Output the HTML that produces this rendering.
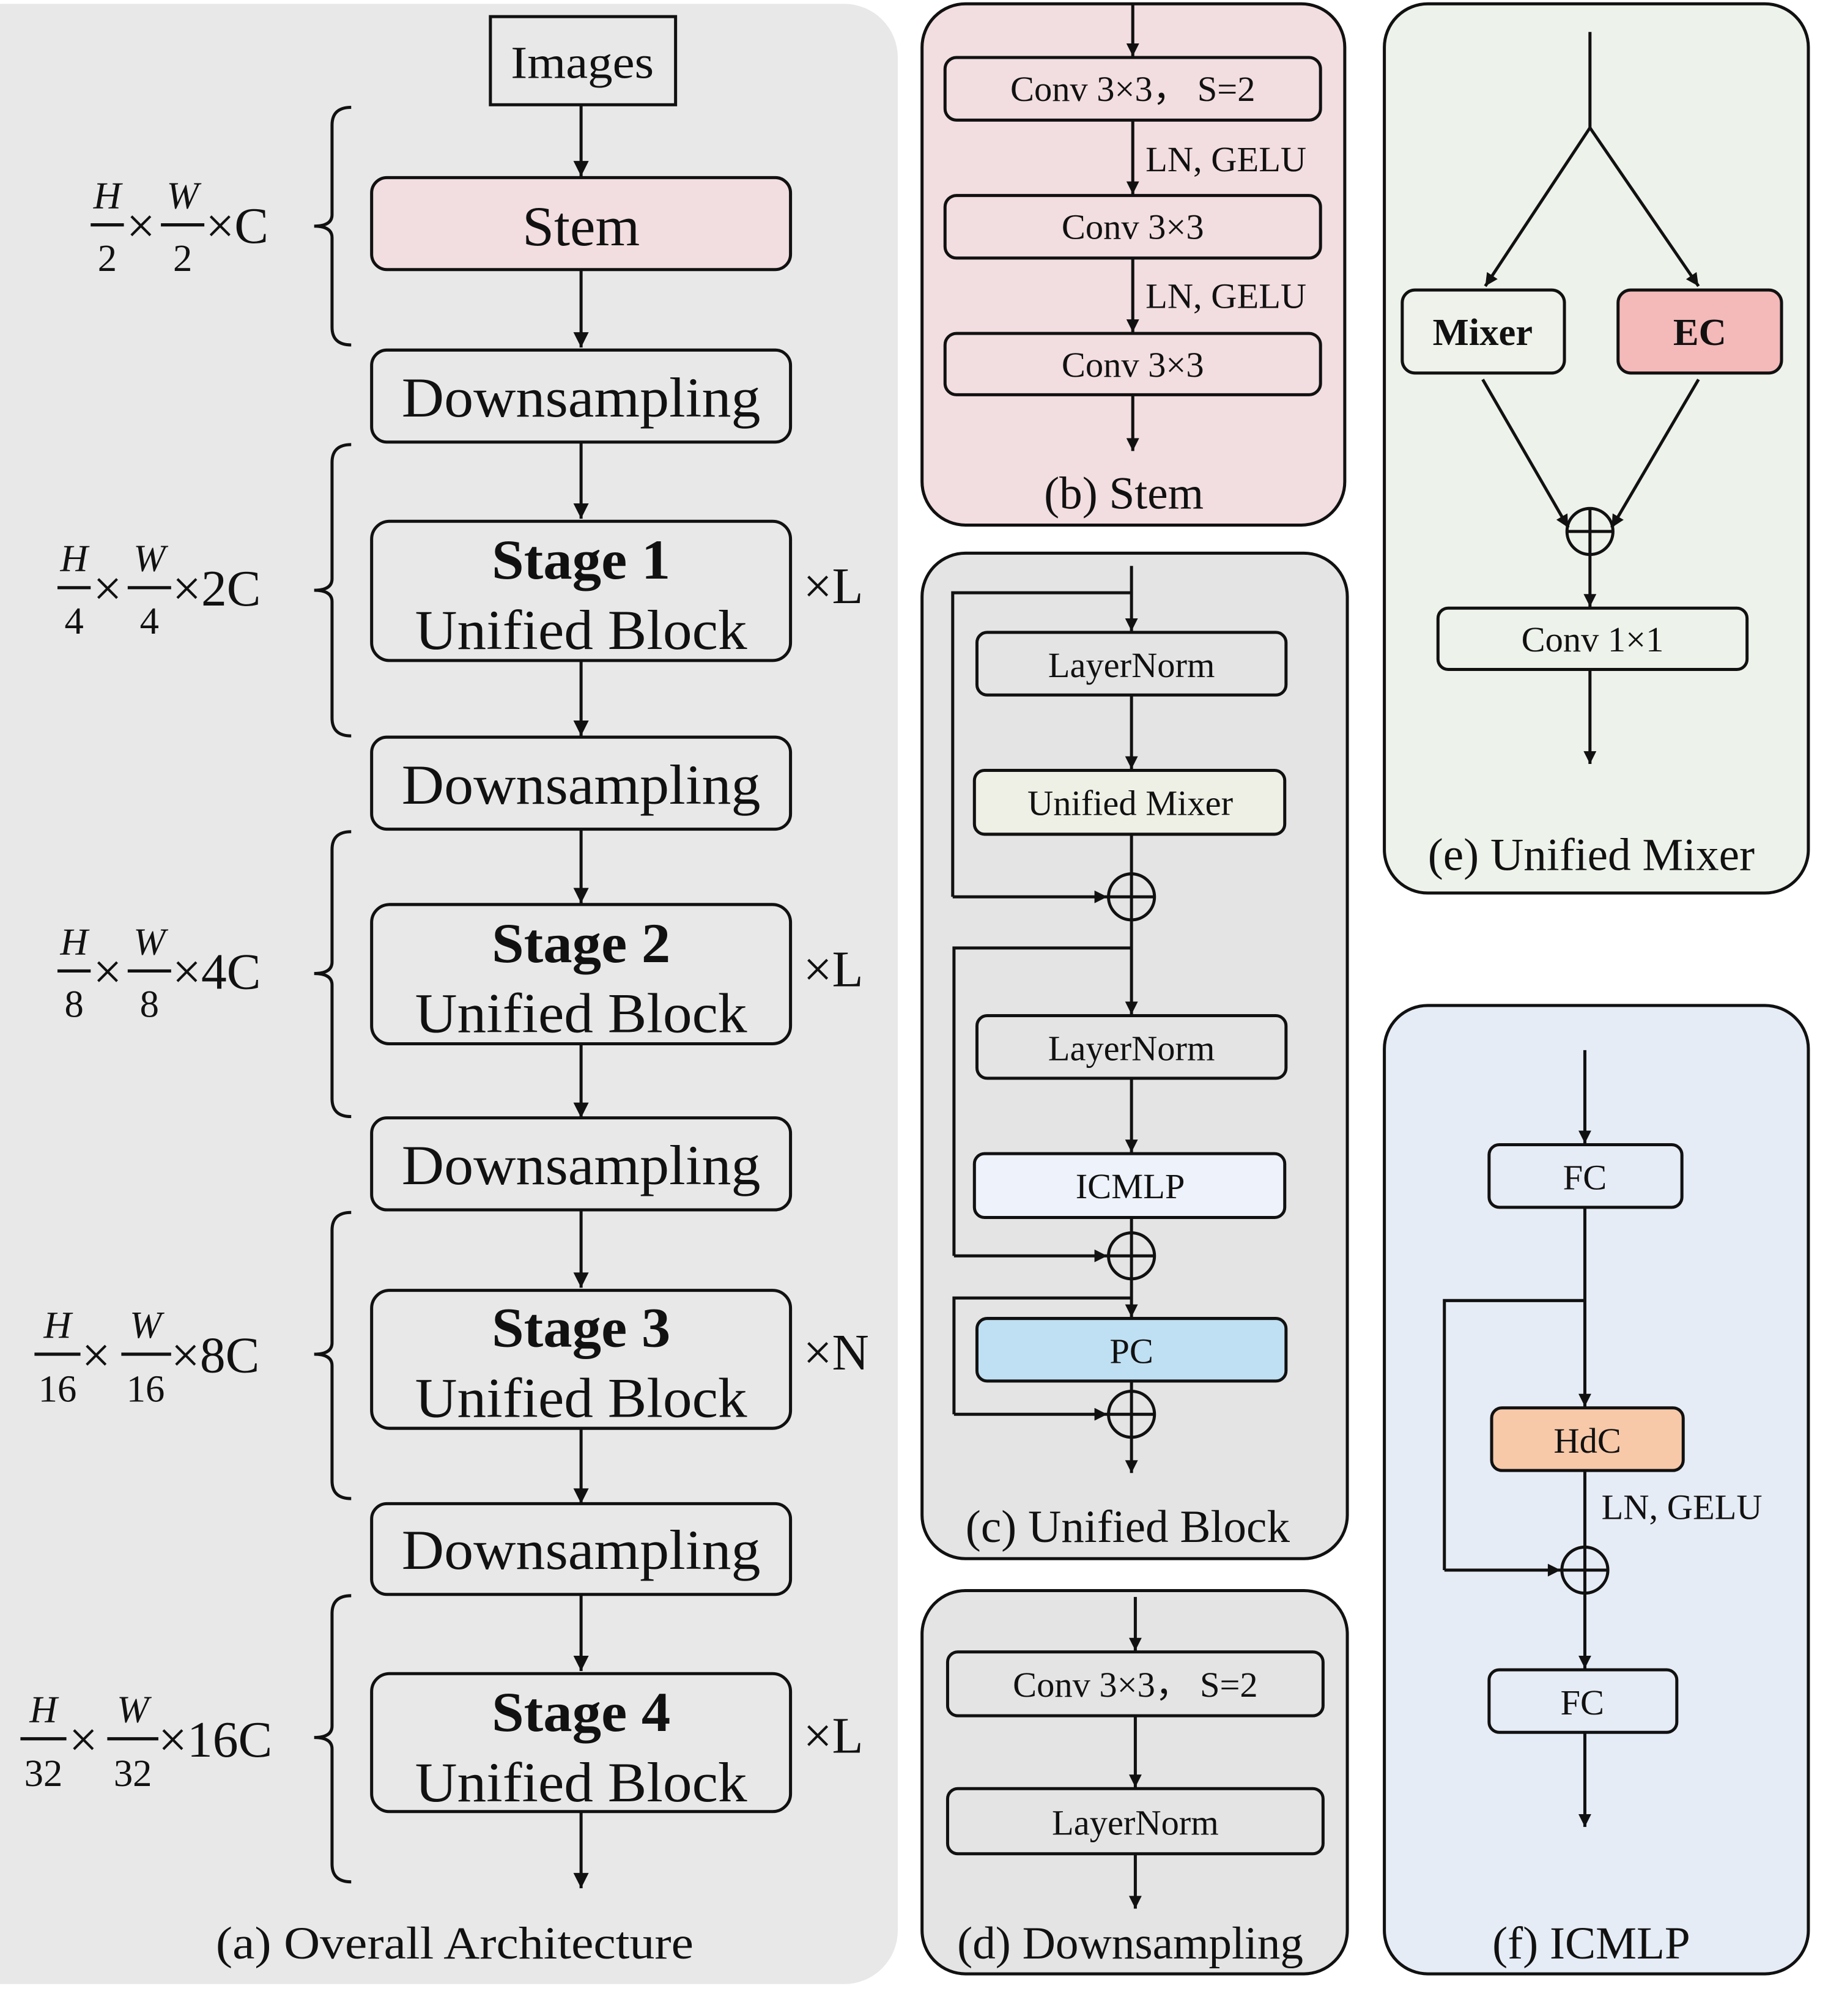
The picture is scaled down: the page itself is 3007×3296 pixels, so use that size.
<!DOCTYPE html>
<html><head><meta charset="utf-8"><style>
html,body{margin:0;padding:0;background:#fff;}
svg{display:block;}
text{font-family:"Liberation Serif","DejaVu Serif",serif;fill:#111;}
</style></head><body>
<svg width="3007" height="3296" viewBox="0 0 1440 1578" preserveAspectRatio="none" xmlns="http://www.w3.org/2000/svg">
<defs>
<marker id="ah" viewBox="0 0 10 10" refX="10" refY="5" markerWidth="12" markerHeight="10" orient="auto" markerUnits="userSpaceOnUse">
<path d="M0,0 L10,5 L0,10 z" fill="#111"/></marker>
<marker id="a2" viewBox="0 0 10 10" refX="10" refY="5" markerWidth="14" markerHeight="12" orient="auto" markerUnits="userSpaceOnUse">
<path d="M0,0 L10,5 L0,10 z" fill="#111"/></marker>
</defs>
<g stroke="#111" stroke-width="2.4" fill="none">
<!-- panels -->
<rect x="-40" y="3" width="743" height="1550" rx="42" fill="#e8e8e8" stroke="none"/>
<rect x="722" y="3" width="331" height="408" rx="34" fill="#f2dde0"/>
<rect x="722" y="433" width="333" height="787" rx="34" fill="#e4e4e4"/>
<rect x="722" y="1245" width="333" height="300" rx="34" fill="#e4e4e4"/>
<rect x="1084" y="3" width="332" height="696" rx="34" fill="#edf2ea"/>
<rect x="1084" y="787" width="332" height="758" rx="34" fill="#e6ecf5"/>

<!-- panel a boxes -->
<rect x="384" y="13" width="145" height="69" fill="none"/>
<rect x="291" y="139" width="328" height="72" rx="12" fill="#f2dde0"/>
<rect x="291" y="274" width="328" height="72" rx="12"/>
<rect x="291" y="408" width="328" height="109" rx="14"/>
<rect x="291" y="577" width="328" height="72" rx="12"/>
<rect x="291" y="708" width="328" height="109" rx="14"/>
<rect x="291" y="875" width="328" height="72" rx="12"/>
<rect x="291" y="1010" width="328" height="108" rx="14"/>
<rect x="291" y="1177" width="328" height="71" rx="12"/>
<rect x="291" y="1310" width="328" height="108" rx="14"/>
<g marker-end="url(#a2)">
<line x1="455" y1="82" x2="455" y2="138"/>
<line x1="455" y1="211" x2="455" y2="272"/>
<line x1="455" y1="346" x2="455" y2="406"/>
<line x1="455" y1="517" x2="455" y2="576"/>
<line x1="455" y1="649" x2="455" y2="707"/>
<line x1="455" y1="817" x2="455" y2="875"/>
<line x1="455" y1="947" x2="455" y2="1008"/>
<line x1="455" y1="1118" x2="455" y2="1177"/>
<line x1="455" y1="1248" x2="455" y2="1308"/>
<line x1="455" y1="1418" x2="455" y2="1478"/>
</g>
<!-- braces -->
<path d="M275,84 Q260,84 260,98 L260,168 Q260,177 246,177 Q260,177 260,186 L260,256 Q260,270 275,270"/>
<path d="M275,348 Q260,348 260,362 L260,453 Q260,462 246,462 Q260,462 260,471 L260,562 Q260,576 275,576"/>
<path d="M275,651 Q260,651 260,665 L260,753 Q260,762 246,762 Q260,762 260,771 L260,860 Q260,874 275,874"/>
<path d="M275,949 Q260,949 260,963 L260,1051 Q260,1060 246,1060 Q260,1060 260,1069 L260,1159 Q260,1173 275,1173"/>
<path d="M275,1249 Q260,1249 260,1263 L260,1351 Q260,1360 246,1360 Q260,1360 260,1369 L260,1459 Q260,1473 275,1473"/>
<!-- fraction bars -->
<line x1="71" y1="176" x2="97" y2="176" stroke-width="2.5"/><line x1="126" y1="176" x2="160" y2="176" stroke-width="2.5"/>
<line x1="45" y1="460" x2="71" y2="460" stroke-width="2.5"/><line x1="100" y1="460" x2="134" y2="460" stroke-width="2.5"/>
<line x1="45" y1="760" x2="71" y2="760" stroke-width="2.5"/><line x1="100" y1="760" x2="134" y2="760" stroke-width="2.5"/>
<line x1="27" y1="1060" x2="63" y2="1060" stroke-width="2.5"/><line x1="95" y1="1060" x2="134" y2="1060" stroke-width="2.5"/>
<line x1="16" y1="1361" x2="52" y2="1361" stroke-width="2.5"/><line x1="84" y1="1361" x2="124" y2="1361" stroke-width="2.5"/>

<!-- panel b -->
<rect x="740" y="45" width="294" height="49" rx="9"/>
<rect x="740" y="153" width="294" height="49" rx="9"/>
<rect x="740" y="261" width="294" height="48" rx="9"/>
<g marker-end="url(#ah)">
<line x1="887" y1="3" x2="887" y2="44"/>
<line x1="887" y1="94" x2="887" y2="152"/>
<line x1="887" y1="202" x2="887" y2="260"/>
<line x1="887" y1="309" x2="887" y2="353"/>
</g>

<!-- panel c -->
<rect x="765" y="495" width="242" height="49" rx="8"/>
<rect x="763" y="603" width="243" height="50" rx="8" fill="#eef0e6"/>
<rect x="765" y="795" width="242" height="49" rx="8"/>
<rect x="763" y="903" width="243" height="50" rx="8" fill="#eef2fa"/>
<rect x="765" y="1032" width="242" height="49" rx="8" fill="#bfe0f3"/>
<circle cx="886" cy="702" r="18"/><line x1="868" y1="702" x2="904" y2="702"/><line x1="886" y1="684" x2="886" y2="720"/>
<circle cx="886" cy="983" r="18"/><line x1="868" y1="983" x2="904" y2="983"/><line x1="886" y1="965" x2="886" y2="1001"/>
<circle cx="886" cy="1107" r="18"/><line x1="868" y1="1107" x2="904" y2="1107"/><line x1="886" y1="1089" x2="886" y2="1125"/>
<line x1="886" y1="653" x2="886" y2="684"/>
<line x1="886" y1="953" x2="886" y2="965"/>
<line x1="886" y1="1081" x2="886" y2="1089"/>
<polyline points="886,464 746,464 746,702"/>
<polyline points="886,742 747,742 747,983"/>
<polyline points="886,1016 747,1016 747,1107"/>
<g marker-end="url(#ah)">
<line x1="886" y1="443" x2="886" y2="494"/>
<line x1="886" y1="544" x2="886" y2="602"/>
<line x1="746" y1="702" x2="867" y2="702"/>
<line x1="886" y1="720" x2="886" y2="794"/>
<line x1="886" y1="844" x2="886" y2="902"/>
<line x1="747" y1="983" x2="867" y2="983"/>
<line x1="886" y1="1001" x2="886" y2="1031"/>
<line x1="747" y1="1107" x2="867" y2="1107"/>
<line x1="886" y1="1125" x2="886" y2="1153"/>
</g>

<!-- panel d -->
<rect x="742" y="1293" width="294" height="50" rx="8"/>
<rect x="742" y="1400" width="294" height="51" rx="8"/>
<g marker-end="url(#ah)">
<line x1="889" y1="1250" x2="889" y2="1292"/>
<line x1="889" y1="1343" x2="889" y2="1399"/>
<line x1="889" y1="1451" x2="889" y2="1494"/>
</g>

<!-- panel e -->
<line x1="1245" y1="25" x2="1245" y2="100"/>
<rect x="1098" y="227" width="127" height="65" rx="10" fill="#eef2ea"/>
<rect x="1267" y="227" width="128" height="65" rx="10" fill="#f4b9b9"/>
<rect x="1126" y="476" width="242" height="48" rx="8"/>
<circle cx="1245" cy="416" r="18"/><line x1="1227" y1="416" x2="1263" y2="416"/><line x1="1245" y1="398" x2="1245" y2="434"/>
<g marker-end="url(#ah)">
<line x1="1245" y1="100" x2="1163" y2="224"/>
<line x1="1245" y1="100" x2="1330" y2="224"/>
<line x1="1161" y1="297" x2="1228" y2="413"/>
<line x1="1330" y1="297" x2="1262" y2="413"/>
<line x1="1245" y1="434" x2="1245" y2="475"/>
<line x1="1245" y1="524" x2="1245" y2="598"/>
</g>

<!-- panel f -->
<rect x="1166" y="896" width="151" height="49" rx="8"/>
<rect x="1168" y="1102" width="150" height="49" rx="8" fill="#f7c9a9"/>
<rect x="1166" y="1307" width="147" height="49" rx="8"/>
<circle cx="1241" cy="1229" r="18"/><line x1="1223" y1="1229" x2="1259" y2="1229"/><line x1="1241" y1="1211" x2="1241" y2="1247"/>
<line x1="1241" y1="1151" x2="1241" y2="1211"/>
<polyline points="1241,1018 1131,1018 1131,1229"/>
<g marker-end="url(#ah)">
<line x1="1241" y1="822" x2="1241" y2="895"/>
<line x1="1241" y1="945" x2="1241" y2="1101"/>
<line x1="1131" y1="1229" x2="1222" y2="1229"/>
<line x1="1241" y1="1247" x2="1241" y2="1306"/>
<line x1="1241" y1="1356" x2="1241" y2="1430"/>
</g>
</g>

<!-- Text panel a -->
<g text-anchor="middle">
<text x="456" y="61" font-size="36" textLength="112" lengthAdjust="spacingAndGlyphs">Images</text>
<text x="455" y="192" font-size="44" textLength="92" lengthAdjust="spacingAndGlyphs">Stem</text>
<text x="455" y="326" font-size="44" textLength="281" lengthAdjust="spacingAndGlyphs">Downsampling</text>
<text x="455" y="629" font-size="44" textLength="281" lengthAdjust="spacingAndGlyphs">Downsampling</text>
<text x="455" y="927" font-size="44" textLength="281" lengthAdjust="spacingAndGlyphs">Downsampling</text>
<text x="455" y="1228" font-size="44" textLength="281" lengthAdjust="spacingAndGlyphs">Downsampling</text>
<text x="455" y="453" font-size="44" font-weight="bold" textLength="140" lengthAdjust="spacingAndGlyphs">Stage 1</text>
<text x="455" y="508" font-size="44" textLength="260" lengthAdjust="spacingAndGlyphs">Unified Block</text>
<text x="455" y="753" font-size="44" font-weight="bold" textLength="140" lengthAdjust="spacingAndGlyphs">Stage 2</text>
<text x="455" y="808" font-size="44" textLength="260" lengthAdjust="spacingAndGlyphs">Unified Block</text>
<text x="455" y="1054" font-size="44" font-weight="bold" textLength="140" lengthAdjust="spacingAndGlyphs">Stage 3</text>
<text x="455" y="1109" font-size="44" textLength="260" lengthAdjust="spacingAndGlyphs">Unified Block</text>
<text x="455" y="1355" font-size="44" font-weight="bold" textLength="140" lengthAdjust="spacingAndGlyphs">Stage 4</text>
<text x="455" y="1410" font-size="44" textLength="260" lengthAdjust="spacingAndGlyphs">Unified Block</text>
<text x="356" y="1533" font-size="36" textLength="374" lengthAdjust="spacingAndGlyphs">(a) Overall Architecture</text>
<!-- fractions -->
<g font-size="30">
<text x="84" y="163" font-style="italic">H</text><text x="84" y="212">2</text>
<text x="143" y="163" font-style="italic">W</text><text x="143" y="212">2</text>
<text x="58" y="447" font-style="italic">H</text><text x="58" y="496">4</text>
<text x="117" y="447" font-style="italic">W</text><text x="117" y="496">4</text>
<text x="58" y="747" font-style="italic">H</text><text x="58" y="796">8</text>
<text x="117" y="747" font-style="italic">W</text><text x="117" y="796">8</text>
<text x="45" y="1047" font-style="italic">H</text><text x="45" y="1097">16</text>
<text x="114" y="1047" font-style="italic">W</text><text x="114" y="1097">16</text>
<text x="34" y="1348" font-style="italic">H</text><text x="34" y="1398">32</text>
<text x="104" y="1348" font-style="italic">W</text><text x="104" y="1398">32</text>
</g>
</g>
<g font-size="40">
<text x="99" y="190">×</text><text x="161" y="190">×C</text>
<text x="73" y="474">×</text><text x="135" y="474">×2C</text>
<text x="73" y="774">×</text><text x="135" y="774">×4C</text>
<text x="64" y="1074">×</text><text x="134" y="1074">×8C</text>
<text x="54" y="1375">×</text><text x="124" y="1375">×16C</text>
<text x="629" y="472">×L</text>
<text x="629" y="772">×L</text>
<text x="629" y="1072">×N</text>
<text x="629" y="1372">×L</text>
</g>

<!-- panel b text -->
<g text-anchor="middle" font-size="28">
<text x="887" y="79">Conv 3×3，  S=2</text>
<text x="887" y="187">Conv 3×3</text>
<text x="887" y="295">Conv 3×3</text>
<text x="880" y="398" font-size="36">(b) Stem</text>
</g>
<text x="897" y="134" font-size="28">LN, GELU</text>
<text x="897" y="241" font-size="28">LN, GELU</text>

<!-- panel c text -->
<g text-anchor="middle" font-size="28">
<text x="886" y="530">LayerNorm</text>
<text x="885" y="638">Unified Mixer</text>
<text x="886" y="830">LayerNorm</text>
<text x="885" y="938">ICMLP</text>
<text x="886" y="1067">PC</text>
<text x="883" y="1207" font-size="36">(c) Unified Block</text>
<!-- panel d -->
<text x="889" y="1328">Conv 3×3，  S=2</text>
<text x="889" y="1436">LayerNorm</text>
<text x="885" y="1533" font-size="36">(d) Downsampling</text>
<!-- panel e -->
<text x="1161" y="270" font-weight="bold" font-size="30">Mixer</text>
<text x="1331" y="270" font-weight="bold" font-size="30">EC</text>
<text x="1247" y="510">Conv 1×1</text>
<text x="1246" y="681" font-size="36">(e) Unified Mixer</text>
<!-- panel f -->
<text x="1241" y="931">FC</text>
<text x="1243" y="1137">HdC</text>
<text x="1239" y="1342">FC</text>
<text x="1246" y="1533" font-size="36">(f) ICMLP</text>
</g>
<text x="1254" y="1189" font-size="28">LN, GELU</text>
</svg>
</body></html>
